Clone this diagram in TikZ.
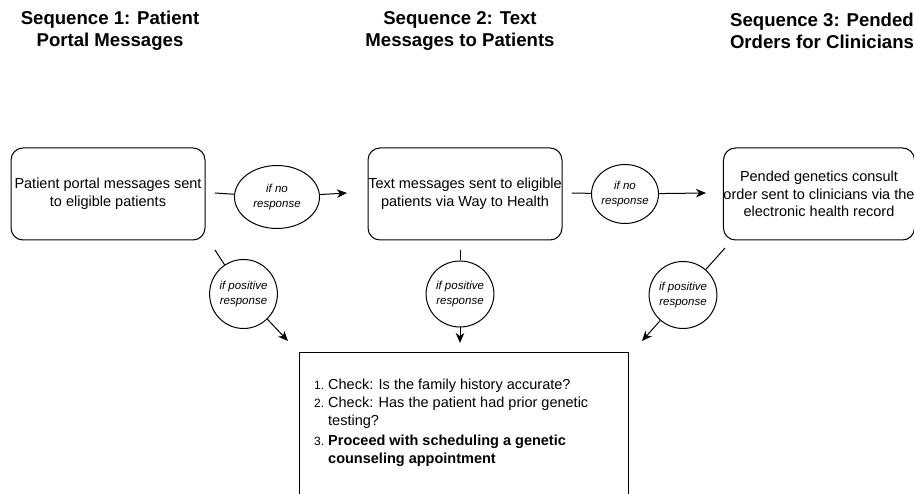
\documentclass[tikz,border=0pt]{standalone}
\usepackage{fontspec}
\setmainfont{Liberation Sans}
\usetikzlibrary{arrows.meta,shapes.geometric}
\begin{document}
\begin{tikzpicture}[x=1pt,y=-1pt,
  title/.style={font=\fontsize{18.6}{22}\selectfont\bfseries, align=center, inner sep=0pt},
  stepbox/.style={draw, rounded corners=12pt, line width=1pt, minimum width=194pt, minimum height=92pt, align=center, font=\fontsize{14.5}{17.5}\selectfont, inner sep=0pt},
  cond/.style={draw, ellipse, line width=1pt, align=center, font=\fontsize{11.5}{15}\selectfont\itshape, inner sep=0pt},
  conn/.style={line width=1pt},
  arr/.style={conn, -{Stealth[length=10pt,width=8.5pt,inset=3pt]}}
]
\useasboundingbox (0,0) rectangle (914,494);
\fill[white] (0,0) rectangle (914,494);

% titles
\node[title] (t1) at (110,31) {Sequence 1: Patient\\Portal Messages};
\node[title] (t2) at (460,31) {Sequence 2: Text\\Messages to Patients};
\node[title] (t3) at (822,31) {Sequence 3: Pended\\Orders for Clinicians};

% boxes
\node[stepbox] (b1) at (108,194) {Patient portal messages sent\\to eligible patients};
\node[stepbox] (b2) at (465,194) {Text messages sent to eligible\\patients via Way to Health};
\node[stepbox, minimum width=188pt] (b3) at (819,194) {Pended genetics consult\\order sent to clinicians via the\\electronic health record};

% no-response ellipses
\node[cond, minimum width=85pt, minimum height=63pt] (n1) at (277,197) {if no\\response};
\node[cond, minimum width=67pt, minimum height=59pt] (n2) at (625,194) {if no\\response};

% positive-response circles
\node[cond, minimum width=58pt, minimum height=69pt] (p1) at (243.5,294) {if positive\\response};
\node[cond, minimum width=57pt, minimum height=66pt] (p2) at (460,294) {if positive\\response};
\node[cond, minimum width=59pt, minimum height=67pt] (p3) at (683,295) {if positive\\response};

% final box
\node[draw, line width=1pt, anchor=north west, minimum width=329pt, minimum height=170pt, inner sep=0pt] (fin) at (299,352) {};
\node[anchor=north west, inner sep=0pt, font=\fontsize{14.5}{18}\selectfont] (list) at (314,377) {%
\begin{tabular}{@{}r@{\hspace{4pt}}l@{}}
{\fontsize{12}{14}\selectfont 1.} & Check: Is the family history accurate?\\
{\fontsize{12}{14}\selectfont 2.} & Check: Has the patient had prior genetic\\
 & testing?\\[2pt]
{\fontsize{12}{14}\selectfont 3.} & \textbf{Proceed with scheduling a genetic}\\
 & \textbf{counseling appointment}
\end{tabular}};

% connector free ends
\coordinate (s1) at (215,193);
\coordinate (e1) at (347,193);
\coordinate (s2) at (572,193);
\coordinate (e2) at (706,193);
\coordinate (d1) at (215,250);
\coordinate (f1) at (288,341);
\coordinate (d2) at (460,250);
\coordinate (f2) at (460,343);
\coordinate (d3) at (725,248);
\coordinate (f3) at (642,341);

\draw[conn] (s1) -- (n1);
\draw[arr] (n1) -- (e1);
\draw[conn] (s2) -- (n2);
\draw[arr] (n2) -- (e2);
\draw[conn] (d1) -- (p1);
\draw[arr] (p1) -- (f1);
\draw[conn] (d2) -- (p2);
\draw[arr] (p2) -- (f2);
\draw[conn] (d3) -- (p3);
\draw[arr] (p3) -- (f3);
\end{tikzpicture}
\end{document}
